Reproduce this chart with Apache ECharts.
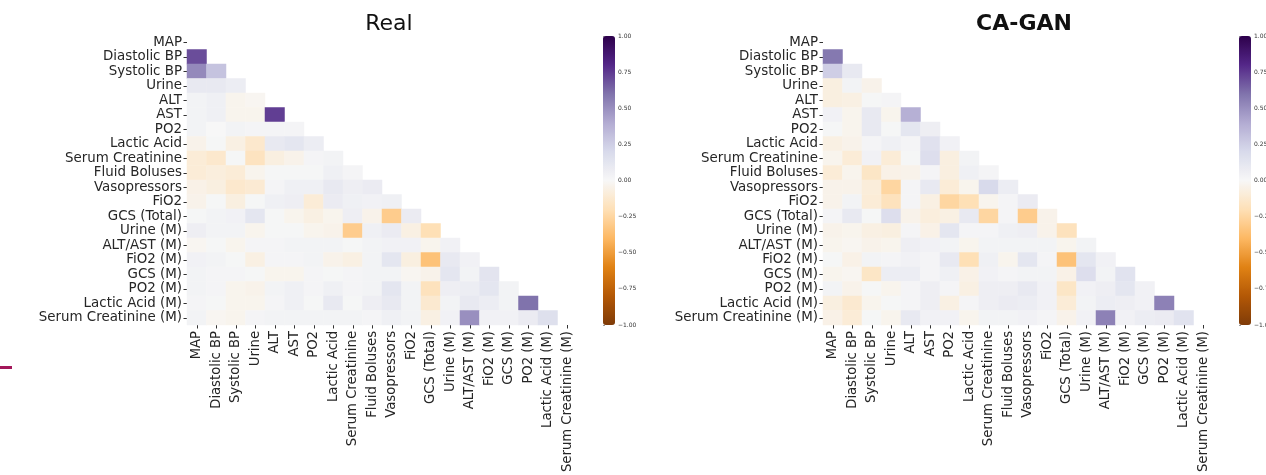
<!DOCTYPE html>
<html><head><meta charset="utf-8">
<script src="https://cdn.jsdelivr.net/npm/echarts@6/dist/echarts.min.js"></script>
<style>html,body{margin:0;padding:0;background:#fff;}#c{width:1266px;height:475px;}</style>
</head><body><div id="c"></div>
<script>
const labels = ['MAP','Diastolic BP','Systolic BP','Urine','ALT','AST','PO2','Lactic Acid','Serum Creatinine','Fluid Boluses','Vasopressors','FiO2','GCS (Total)','Urine (M)','ALT/AST (M)','FiO2 (M)','GCS (M)','PO2 (M)','Lactic Acid (M)','Serum Creatinine (M)'];
const titles = ['Real','CA-GAN'];
const colorbarTicks = [-1,-0.75,-0.5,-0.25,0,0.25,0.5,0.75,1];
// lower-triangle correlation rows (row i has columns 0..i-1)
const realRows = [
  [],
  [0.7],
  [0.52,0.3],
  [0.1,0.1,0.07],
  [0.03,0.05,-0.03,-0.02],
  [0.03,0.05,-0.03,-0.03,0.74],
  [0.03,0.0,0.03,0.02,0.02,0.02],
  [-0.04,0.01,-0.06,-0.13,0.1,0.12,0.07],
  [-0.1,-0.13,0.01,-0.17,-0.07,-0.04,0.02,0.03],
  [-0.1,-0.08,-0.1,-0.03,0.01,0.01,0.01,0.05,0.02],
  [-0.05,-0.07,-0.13,-0.11,0.02,0.05,0.05,0.1,0.06,0.08],
  [-0.04,0.01,-0.07,0.01,0.05,0.06,-0.1,0.08,0.05,0.04,0.05],
  [0.01,0.03,0.04,0.12,0.01,-0.03,-0.06,-0.03,0.06,-0.04,-0.3,0.08],
  [0.06,0.03,0.03,-0.03,0.01,0.01,-0.03,-0.04,-0.3,0.05,0.08,-0.06,-0.2],
  [-0.02,0.01,-0.03,0.02,0.02,0.03,0.03,0.03,0.01,0.03,0.04,0.04,-0.03,0.04],
  [0.04,0.03,0.01,-0.06,0.02,0.02,0.03,-0.04,-0.06,0.03,0.12,-0.07,-0.35,0.1,0.04],
  [0.03,0.02,0.02,0.01,-0.03,-0.03,0.02,0.01,0.02,0.03,0.03,-0.02,-0.04,0.12,0.03,0.13],
  [0.03,0.02,-0.03,-0.04,0.03,0.05,0.02,0.05,0.02,0.03,0.12,0.03,-0.18,0.06,0.07,0.12,0.03],
  [0.02,0.01,-0.03,-0.03,0.02,0.05,0.01,0.1,0.01,0.06,0.1,0.03,-0.12,0.03,0.1,0.07,0.03,0.6],
  [0.03,-0.02,-0.03,0.02,0.03,0.03,0.03,0.03,0.03,0.02,0.05,0.03,-0.06,0.04,0.5,0.04,0.04,0.08,0.16]
];
const ganRows = [
  [],
  [0.58],
  [0.25,0.1],
  [-0.07,0.03,-0.04],
  [-0.07,-0.06,0.01,0.02],
  [0.04,-0.03,0.1,-0.03,0.38],
  [0.01,-0.03,0.1,0.01,0.12,0.06],
  [-0.06,-0.04,0.02,0.05,0.02,0.15,0.04],
  [-0.03,-0.1,0.04,-0.1,0.01,0.17,-0.07,0.03],
  [-0.1,-0.03,-0.15,-0.05,-0.04,0.02,-0.07,0.05,0.02],
  [-0.04,-0.04,-0.09,-0.25,0.02,0.1,-0.1,-0.03,0.2,0.07],
  [-0.04,0.03,-0.1,-0.18,0.02,-0.06,-0.25,-0.2,-0.03,0.02,0.08],
  [0.02,0.1,0.01,0.17,-0.04,-0.08,-0.06,0.1,-0.25,0.02,-0.3,-0.04],
  [-0.04,-0.03,-0.06,-0.07,0.02,-0.05,0.12,0.02,0.02,0.05,0.06,-0.04,-0.18],
  [-0.03,-0.02,-0.04,-0.03,0.06,0.04,0.03,-0.03,0.03,0.03,0.03,0.03,-0.03,0.03],
  [0.01,-0.05,0.03,0.02,0.04,0.02,0.1,-0.2,0.05,-0.03,0.12,0.02,-0.35,0.12,0.04],
  [-0.03,-0.02,-0.15,0.07,0.07,0.02,0.05,-0.05,0.04,0.02,0.03,0.03,-0.05,0.17,0.03,0.14],
  [0.03,-0.04,0.01,-0.03,0.02,0.06,0.02,-0.06,0.06,0.06,0.1,0.04,-0.15,0.04,0.06,0.12,0.04],
  [-0.07,-0.12,-0.03,0.01,0.02,0.06,-0.06,0.02,0.06,0.08,0.07,0.04,-0.1,0.03,0.07,0.06,0.04,0.55],
  [-0.05,-0.1,0.01,-0.03,0.1,0.04,0.04,-0.03,0.03,0.03,0.04,0.02,-0.04,0.04,0.55,0.04,0.07,0.08,0.14]
];
const puor = ['#7f3b08','#b35806','#e08214','#fdb863','#fee0b6','#f7f7f7','#d8daeb','#b2abd2','#8073ac','#542788','#2d004b'];

function toData(rows){const d=[];rows.forEach((r,i)=>r.forEach((v,j)=>d.push([j,i,v])));return d;}
const font='DejaVu Sans';
const gridL=[187,823], cbL=[603,1239];
const grids=[],xAxes=[],yAxes=[],series=[],vms=[];
for(let k=0;k<2;k++){
  grids.push({left:gridL[k],top:35,width:390,height:290,outerBoundsMode:'none',containLabel:false});
  xAxes.push({type:'category',gridIndex:2*k,data:labels,position:'bottom',
    axisLine:{show:false},axisTick:{show:true,length:3.5,alignWithLabel:true,lineStyle:{color:'#333'}},
    splitLine:{show:false},axisLabel:{rotate:90,interval:0,fontFamily:font,fontSize:13.2,color:'#262626',margin:6}});
  yAxes.push({type:'category',gridIndex:2*k,data:labels,inverse:true,
    axisLine:{show:false},axisTick:{show:true,length:3.5,alignWithLabel:true,lineStyle:{color:'#333'}},
    splitLine:{show:false},axisLabel:{interval:0,fontFamily:font,fontSize:13.4,color:'#262626',margin:5}});
  grids.push({left:cbL[k],top:36,width:12,height:289,outerBoundsMode:'none',containLabel:false});
  xAxes.push({type:'value',gridIndex:2*k+1,show:false});
  yAxes.push({type:'value',gridIndex:2*k+1,min:colorbarTicks[0],max:colorbarTicks[colorbarTicks.length-1],interval:0.25,position:'right',
    axisLine:{show:false},axisTick:{show:true,length:2,lineStyle:{color:'#555',width:0.6}},splitLine:{show:false},
    axisLabel:{fontFamily:font,fontSize:6,color:'#333',margin:3,formatter:v=>(v<0?'\u2212':'')+Math.abs(v).toFixed(2)}});
  series.push({type:'heatmap',xAxisIndex:2*k,yAxisIndex:2*k,data:toData(k===0?realRows:ganRows),
    itemStyle:{borderWidth:0},emphasis:{disabled:true}});
  vms.push({type:'continuous',seriesIndex:k,min:-1,max:1,calculable:false,showLabel:false,text:null,
    inRange:{color:puor},left:cbL[k],top:36,itemWidth:12,itemHeight:289,orient:'vertical',padding:0,realtime:false,hoverLink:false});
}
const chart=echarts.init(document.getElementById('c'),null,{renderer:'canvas'});
chart.setOption({
  animation:false,backgroundColor:'#fff',
  title:[
    {text:titles[0],left:384,top:8,textAlign:'center',textStyle:{fontFamily:font,fontSize:22,fontWeight:'normal',color:'#111'}},
    {text:titles[1],left:1019,top:8,textAlign:'center',textStyle:{fontFamily:font,fontSize:22,fontWeight:'bold',color:'#111'}}
  ],
  grid:grids,xAxis:xAxes,yAxis:yAxes,visualMap:vms,series:series,
  graphic:[{type:'rect',left:0,top:366,shape:{width:12,height:3},style:{fill:'#a3175a'}}]
});
</script></body></html>
